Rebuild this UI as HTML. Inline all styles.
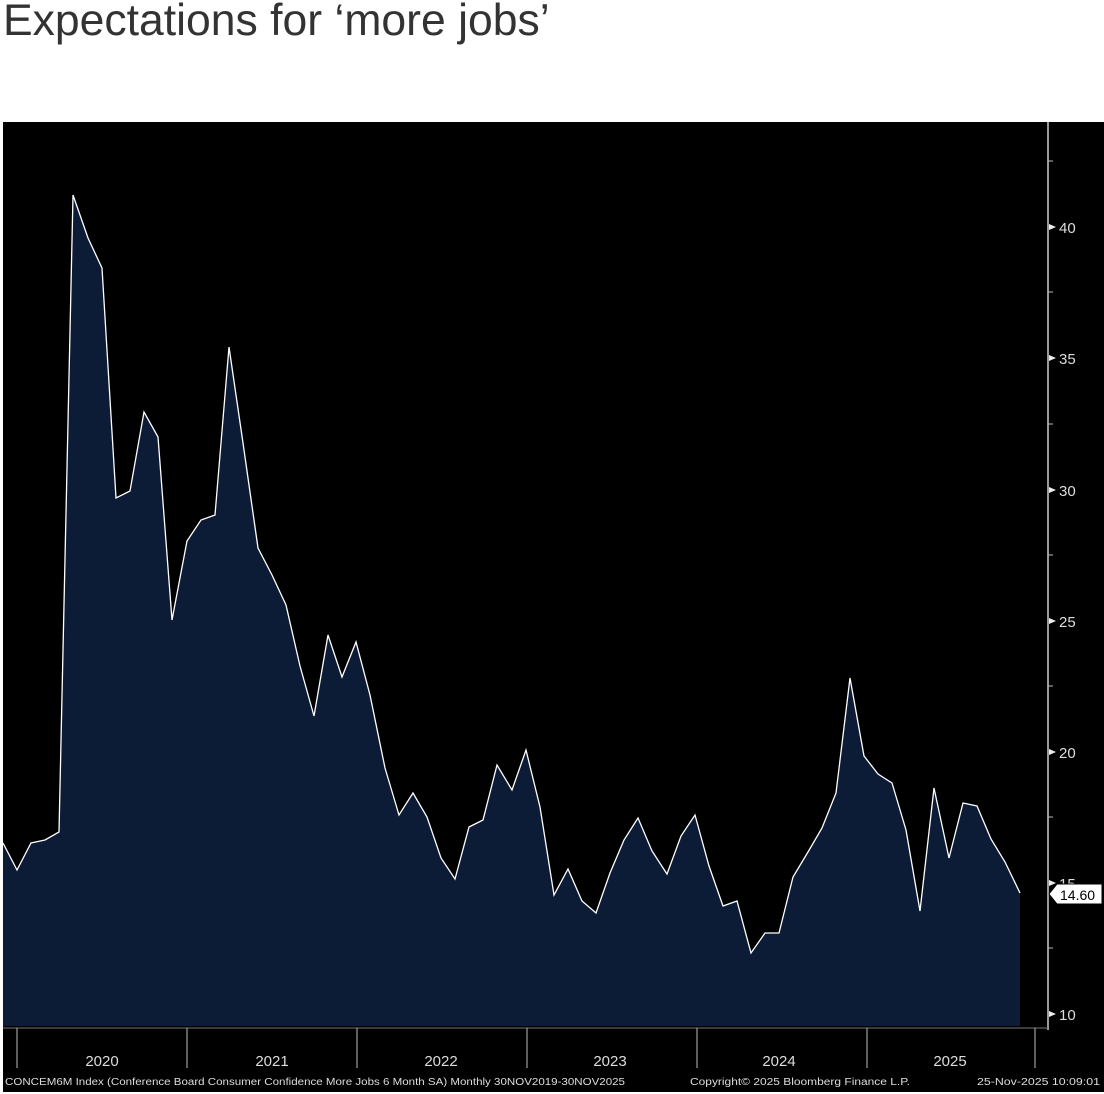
<!DOCTYPE html>
<html><head><style>
body{margin:0;background:#fff;width:1104px;height:1094px;overflow:hidden;position:relative;font-family:"Liberation Sans",sans-serif}
.t{position:absolute;left:3px;top:-4px;font-size:44.5px;color:#333;white-space:nowrap}
</style></head><body>
<div class="t">Expectations for ‘more jobs’</div>
<svg style="position:absolute;left:0;top:0" width="1104" height="1094">
<rect x="3" y="122" width="1101" height="970" fill="#000"/>
<polygon fill="#0d1c36" points="3,1026 3,843 17,870 31,843 45,840 59,832 73,195 88,238 102,268 116,498 130,491 144,412 158,437 172,620 187,541 201,520 215,515 229,347 243,443 258,548 272,575 286,605 300,666 314,716 328,635 342,677 356,642 370,695 385,768 399,815 413,793 427,817 441,858 455,879 469,827 483,820 497,765 512,790 526,750 540,807 554,895 568,869 582,901 596,913 610,873 624,840 638,818 652,851 667,874 681,836 695,815 709,866 723,906 737,901 751,953 765,933 779,933 793,877 808,852 822,828 836,793 850,678 864,756 878,774 892,783 906,830 920,911 934,788 949,858 963,803 977,806 991,839 1005,862 1020,893 1020,1026"/>
<polyline fill="none" stroke="#fff" stroke-width="1.3" points="3,843 17,870 31,843 45,840 59,832 73,195 88,238 102,268 116,498 130,491 144,412 158,437 172,620 187,541 201,520 215,515 229,347 243,443 258,548 272,575 286,605 300,666 314,716 328,635 342,677 356,642 370,695 385,768 399,815 413,793 427,817 441,858 455,879 469,827 483,820 497,765 512,790 526,750 540,807 554,895 568,869 582,901 596,913 610,873 624,840 638,818 652,851 667,874 681,836 695,815 709,866 723,906 737,901 751,953 765,933 779,933 793,877 808,852 822,828 836,793 850,678 864,756 878,774 892,783 906,830 920,911 934,788 949,858 963,803 977,806 991,839 1005,862 1020,893"/>
<line x1="1048" y1="122" x2="1048" y2="1030" stroke="#ccc" stroke-width="1.5"/>
<line x1="3" y1="1028" x2="1048" y2="1028" stroke="#777" stroke-width="1"/>
<g stroke="#bbb">
<line x1="17" y1="1028" x2="17" y2="1068"/><line x1="187" y1="1028" x2="187" y2="1068"/><line x1="357" y1="1028" x2="357" y2="1068"/><line x1="527" y1="1028" x2="527" y2="1068"/><line x1="697" y1="1028" x2="697" y2="1068"/><line x1="867" y1="1028" x2="867" y2="1068"/><line x1="1035" y1="1028" x2="1035" y2="1068"/>
<line x1="1048" y1="161" x2="1053" y2="161"/><line x1="1048" y1="292" x2="1053" y2="292"/><line x1="1048" y1="424" x2="1053" y2="424"/><line x1="1048" y1="555" x2="1053" y2="555"/><line x1="1048" y1="686" x2="1053" y2="686"/><line x1="1048" y1="817" x2="1053" y2="817"/><line x1="1048" y1="948" x2="1053" y2="948"/>
</g>
<g fill="#eee">
<polygon points="1049,224 1056,227 1049,230"/><polygon points="1049,355 1056,358 1049,361"/><polygon points="1049,487 1056,490 1049,493"/><polygon points="1049,618 1056,621 1049,624"/><polygon points="1049,749 1056,752 1049,755"/><polygon points="1049,880 1056,883 1049,886"/><polygon points="1049,1011 1056,1014 1049,1017"/>
</g>
<g font-family="Liberation Sans" font-size="15" fill="#ddd">
<text x="1059" y="233">40</text><text x="1059" y="364">35</text><text x="1059" y="496">30</text><text x="1059" y="627">25</text><text x="1059" y="758">20</text><text x="1059" y="889">15</text><text x="1059" y="1020">10</text>
</g>
<polygon points="1049,894 1057,884 1102,884 1102,904 1057,904" fill="#fff" stroke="#000"/>
<text x="1060" y="900" font-family="Liberation Sans" font-size="14" fill="#000">14.60</text>
<g font-family="Liberation Sans" font-size="15" fill="#ddd" text-anchor="middle">
<text x="102" y="1066">2020</text><text x="272" y="1066">2021</text><text x="441" y="1066">2022</text><text x="610" y="1066">2023</text><text x="779" y="1066">2024</text><text x="950" y="1066">2025</text>
</g>
<g font-family="Liberation Sans" font-size="10" fill="#ddd">
<text x="5" y="1085" textLength="620" lengthAdjust="spacingAndGlyphs">CONCEM6M Index (Conference Board Consumer Confidence More Jobs 6 Month SA) Monthly 30NOV2019-30NOV2025</text>
<text x="690" y="1085" textLength="220" lengthAdjust="spacingAndGlyphs">Copyright© 2025 Bloomberg Finance L.P.</text>
<text x="977" y="1085" textLength="123" lengthAdjust="spacingAndGlyphs">25-Nov-2025 10:09:01</text>
</g>
</svg>
</body></html>
